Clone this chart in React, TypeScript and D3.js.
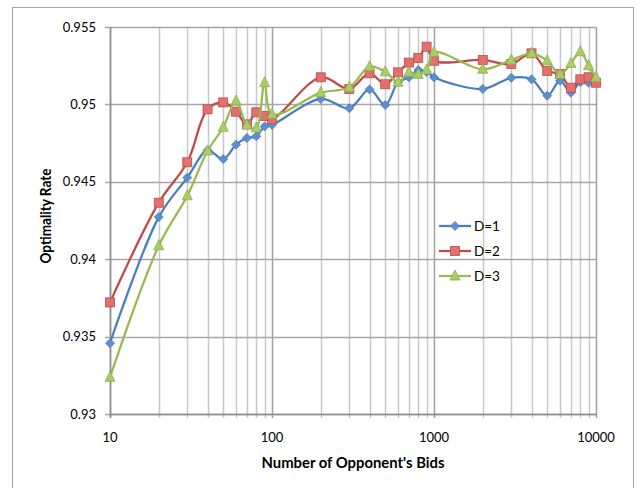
import React from "react";
import * as d3 from "d3";

const bids = [10, 20, 30, 40, 50, 60, 70, 80, 90, 100, 200, 300, 400, 500, 600, 700, 800, 900, 1000, 2000, 3000, 4000, 5000, 6000, 7000, 8000, 9000, 10000];

const d1 = [0.93457, 0.94272, 0.94527, 0.94703, 0.94647, 0.9474, 0.94783, 0.94794, 0.94858, 0.94867, 0.95035, 0.94975, 0.95097, 0.94996, 0.95143, 0.95175, 0.95222, 0.9521, 0.95175, 0.951, 0.95172, 0.95162, 0.95056, 0.95153, 0.95076, 0.95145, 0.9514, 0.9515];
const d2 = [0.93721, 0.94365, 0.94626, 0.94968, 0.95013, 0.94953, 0.94871, 0.94949, 0.94925, 0.94904, 0.95175, 0.951, 0.95201, 0.9513, 0.95207, 0.9527, 0.953, 0.95373, 0.95282, 0.95287, 0.95261, 0.9533, 0.95216, 0.95196, 0.95108, 0.95162, 0.95175, 0.9514];
const d3v = [0.93237, 0.94087, 0.9441, 0.94699, 0.94852, 0.95022, 0.94867, 0.94848, 0.9514, 0.94936, 0.95076, 0.9511, 0.95244, 0.95211, 0.95143, 0.95207, 0.95194, 0.95222, 0.95336, 0.95227, 0.95287, 0.9533, 0.95282, 0.95194, 0.95265, 0.9534, 0.9525, 0.95175];

const seriesNames = ["D=1", "D=2", "D=3"];
const yTicks = [0.93, 0.935, 0.94, 0.945, 0.95, 0.955];
const yTickLabels = ["0.93", "0.935", "0.94", "0.945", "0.95", "0.955"];
const xTickValues = [10, 100, 1000, 10000];
const xTickLabels = ["10", "100", "1000", "10000"];

const W = 638;
const H = 488;
const L = 110, R = 596, T = 27, B = 414;
const FONT = "Lato, 'Open Sans', sans-serif";

const x = d3.scaleLog().domain([10, 10000]).range([L, R]);
const y = d3.scaleLinear().domain([0.93, 0.955]).range([B, T]);

// gridline positions: 1..9 within every decade
const minorX: number[] = [];
for (let dec = 10; dec < 10000; dec *= 10) {
  for (let k = 1; k <= 9; k++) minorX.push(dec * k);
}
minorX.push(10000);

const styles = [
  { line: "#4A7EBB", fill: "#5B8FD2", stroke: "#4A7EBB", shape: "diamond" },
  { line: "#BE4B48", fill: "#E2706C", stroke: "#BE4B48", shape: "square" },
  { line: "#98B954", fill: "#A9CE68", stroke: "#8DB04A", shape: "triangle" },
];

function Marker({ cx, cy, shape, fill, stroke }: any) {
  if (shape === "diamond") {
    const s = 4.5;
    return <path d={`M${cx},${cy - s}L${cx + s},${cy}L${cx},${cy + s}L${cx - s},${cy}Z`} fill={fill} stroke={stroke} strokeWidth={0.8} />;
  }
  if (shape === "square") {
    const s = 4.5;
    return <rect x={cx - s} y={cy - s} width={2 * s} height={2 * s} fill={fill} stroke={stroke} strokeWidth={0.8} />;
  }
  const s = 5;
  return <path d={`M${cx},${cy - s - 1}L${cx + s},${cy + s - 1}L${cx - s},${cy + s - 1}Z`} fill={fill} stroke={stroke} strokeWidth={0.8} />;
}

export default function App() {
  const all = [d1, d2, d3v];
  const line = d3
    .line<number>()
    .x((_, i) => x(bids[i]))
    .y((v) => y(v))
    .curve(d3.curveCatmullRom.alpha(0.5));

  return (
    <svg width={W} height={H} style={{ position: "absolute", left: 0, top: 0, background: "#fff" }}>
      <rect x={12.5} y={7.5} width={621} height={H} fill="#fff" stroke="#A6A6A6" strokeWidth={1} />
      {/* vertical gridlines */}
      {minorX.map((v) => {
        const major = xTickValues.includes(v);
        return (
          <line key={"gx" + v} x1={Math.round(x(v)) + 0.5} x2={Math.round(x(v)) + 0.5} y1={T} y2={B + 4}
            stroke={major ? "#A0A0A0" : "#C8C8C8"} strokeWidth={1.5} />
        );
      })}
      {/* horizontal gridlines */}
      {yTicks.map((v) => (
        <line key={"gy" + v} x1={L - 5} x2={R} y1={Math.round(y(v)) + 0.5} y2={Math.round(y(v)) + 0.5}
          stroke="#A6A6A6" strokeWidth={1.5} />
      ))}
      {/* axes */}
      <line x1={L + 0.5} x2={L + 0.5} y1={T} y2={B + 4} stroke="#8C8C8C" strokeWidth={1.5} />
      <line x1={L} x2={R} y1={B + 0.5} y2={B + 0.5} stroke="#8C8C8C" strokeWidth={1.5} />

      {yTicks.map((v, i) => (
        <text key={"yl" + v} x={96} y={y(v)} dy="0.35em" textAnchor="end" fontFamily={FONT} fontSize={13} fill="#000">
          {yTickLabels[i]}
        </text>
      ))}
      {xTickValues.map((v, i) => (
        <text key={"xl" + v} x={x(v)} y={437} dy="0.35em" textAnchor="middle" fontFamily={FONT} fontSize={13} fill="#000">
          {xTickLabels[i]}
        </text>
      ))}
      <text x={(L + R) / 2} y={463} dy="0.35em" textAnchor="middle" fontFamily={FONT} fontSize={14.5} fontWeight="bold"
        textLength={183} lengthAdjust="spacingAndGlyphs">
        Number of Opponent's Bids
      </text>
      <text transform={`translate(46,216) rotate(-90)`} dy="0.35em" textAnchor="middle" fontFamily={FONT} fontSize={14.5} fontWeight="bold"
        textLength={95} lengthAdjust="spacingAndGlyphs">
        Optimality Rate
      </text>

      {all.map((vals, si) => (
        <g key={"s" + si}>
          <path d={line(vals) || ""} fill="none" stroke={styles[si].line} strokeWidth={2.25} />
          {vals.map((v, i) => (
            <Marker key={i} cx={x(bids[i])} cy={y(v)} shape={styles[si].shape} fill={styles[si].fill} stroke={styles[si].stroke} />
          ))}
        </g>
      ))}

      {/* legend */}
      {seriesNames.map((name, i) => {
        const ly = 226 + i * 25;
        return (
          <g key={"lg" + i}>
            <line x1={439} x2={471} y1={ly} y2={ly} stroke={styles[i].line} strokeWidth={2.25} />
            <Marker cx={455} cy={ly} shape={styles[i].shape} fill={styles[i].fill} stroke={styles[i].stroke} />
            <text x={474} y={ly} dy="0.35em" fontFamily={FONT} fontSize={13.5} fill="#000">{name}</text>
          </g>
        );
      })}
    </svg>
  );
}
